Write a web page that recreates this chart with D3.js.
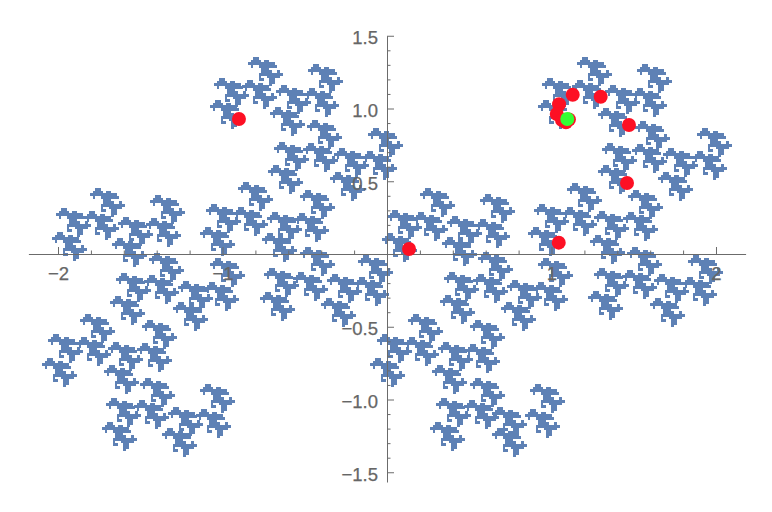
<!DOCTYPE html>
<html>
<head>
<meta charset="utf-8">
<style>html,body{margin:0;padding:0;background:#fff}svg{display:block}</style>
<script src="https://cdnjs.cloudflare.com/ajax/libs/d3/7.8.5/d3.min.js"></script>
</head>
<body>
<div id="chart"></div>
<script>
// Upper-left corner of each repeated fractal piece (data units)
const pieceX = [
-1.866,-1.684,-1.489,-2.061,-1.891,-1.696,-1.520,-2.097,-1.720,-1.502,-1.137,-1.708,-1.538,-1.331,-1.161,-1.733,-1.368,-1.301,
-1.805,-1.441,-2.012,-1.842,-1.635,-1.465,-2.036,-1.672,-1.447,-1.100,-0.936,-0.906,-1.137,-1.076,-1.647,-1.477,-1.271,-1.112,
-0.845,-0.480,-1.052,-0.881,-0.675,-0.505,-1.076,-0.711,-0.486,-0.116,-0.687,-0.511,-0.322,-0.152,-0.723,-0.347,-0.529,0.201,
-0.729,-0.565,-0.760,-0.529,-0.748,-0.571,-0.365,-0.201,-0.772,-0.401,-0.176,-0.030,0,0.158,
0.565,0.365,0.535,0.334,0.553,0.894,1.064,1.094,0.857,1.234,0.918,0.347,0.523,0.729,0.888,0.322,0.693,0.128,0.505,
1.465,1.258,1.435,1.459,1.830,1.258,1.429,1.623,1.793,1.222,1.599,
1.155,1.520,0.942,1.125,1.325,1.489,0.918,1.283,1.508,1.885,1.307,1.489,1.678,1.854,1.283,1.647,
-0.061,0.103,0.310,0.474,-0.103,0.274,0.505,0.869,0.298,0.468,0.638,0.839,0.261,0.638];
const pieceY = [
-0.412,-0.289,-0.454,-0.550,-0.570,-0.605,-0.612,-0.715,-0.763,-0.852,-0.893,-0.990,-1.003,-1.052,-1.065,-1.155,-1.196,-0.330,
0.454,0.405,0.316,0.296,0.254,0.247,0.151,0.110,0.007,0.344,0.323,0.495,0.186,-0.027,-0.131,-0.144,-0.186,-0.192,
1.354,1.306,1.210,1.196,1.162,1.141,1.058,1.010,0.921,0.866,0.770,0.763,0.729,0.708,0.612,0.564,0.440,0.454,
0.289,0.282,0.144,0.048,-0.096,-0.124,-0.137,-0.158,-0.261,-0.302,-0.007,0.144,0.302,0.289,
0.412,0.261,0.241,0.117,0.014,0.344,0.323,0.488,0.186,0.131,-0.027,-0.124,-0.137,-0.179,-0.192,-0.282,-0.330,-0.412,-0.454,
0.440,0.296,0.289,0.048,-0.007,-0.096,-0.110,-0.137,-0.158,-0.254,-0.302,
1.354,1.306,1.210,1.196,1.162,1.141,1.058,1.003,0.914,0.866,0.763,0.756,0.729,0.708,0.612,0.564,
-0.550,-0.570,-0.605,-0.619,-0.715,-0.763,-0.852,-0.893,-0.990,-1.003,-1.052,-1.065,-1.155,-1.196];

// Shape of one piece as seen in the picture
const pieceShape = [
"..XX.........",
".XXXX.XX.....",
"XXXXXXXXXX...",
".X..XXXXXXX..",
".....XXX.....",
".....XXXX..X.",
"....XXXXXXXXX",
"....X..XXXXX.",
"....XX..XX...",
"........XX...",
"........X...."];
const cellW = 0.01621, cellH = 0.01833;

const redX = [-0.900,0.134,1.044,1.129,1.299,1.046,1.032,1.471,1.459,1.106,1.088,1.064];
const redY = [0.928,0.034,0.078,1.095,1.081,1.029,0.962,0.887,0.488,0.924,0.905,0.921];
const greenX = [1.096];
const greenY = [0.928];

const xMajor = [-2,-1,1,2];
const xMinor = [-1.8,-1.6,-1.4,-1.2,-0.8,-0.6,-0.4,-0.2,0.2,0.4,0.6,0.8,1.2,1.4,1.6,1.8];
const yMajor = [-1.5,-1,-0.5,0.5,1,1.5];
const yMinor = [-1.4,-1.3,-1.2,-1.1,-0.9,-0.8,-0.7,-0.6,-0.4,-0.3,-0.2,-0.1,0.1,0.2,0.3,0.4,0.6,0.7,0.8,0.9,1.1,1.2,1.3,1.4];
const yLabels = ["−1.5","−1.0","−0.5","0.5","1.0","1.5"];

const width = 772, height = 512;
const x = d3.scaleLinear().domain([-2.18,2.18]).range([28.4,745.6]);
const y = d3.scaleLinear().domain([-1.567,1.5]).range([482,35.75]);

const svg = d3.select("#chart").append("svg").attr("width",width).attr("height",height);

const cells = [];
pieceShape.forEach((row,r)=>[...row].forEach((ch,c)=>{ if(ch==="X") cells.push([c,r]); }));

const fractal = svg.append("g").attr("fill","#5e81b5").attr("shape-rendering","crispEdges");
fractal.selectAll("path").data(pieceX.map((v,i)=>[v,pieceY[i]])).join("path")
  .attr("d",d=>cells.map(([c,r])=>{
    const x0=Math.round(x(d[0]+c*cellW)), x1=Math.round(x(d[0]+(c+1)*cellW));
    const y0=Math.round(y(d[1]-r*cellH)), y1=Math.round(y(d[1]-(r+1)*cellH));
    return `M${x0},${y0}H${x1}V${y1}H${x0}Z`;
  }).join(""));

const axisColor="#6b6b6b", textColor="#666";
function style(g){
  g.selectAll("path,line").attr("stroke",axisColor).attr("stroke-width",1);
  g.selectAll("text").attr("fill",textColor).attr("font-family","'Liberation Sans',Arial,sans-serif").attr("font-size",18.5).attr("stroke",textColor).attr("stroke-width",0.25);
}
// x axis: ticks rise above the line
const gx = svg.append("g").attr("transform",`translate(0,${y(0)})`);
gx.call(d3.axisBottom(x).tickValues(xMinor).tickSizeOuter(0).tickSizeInner(-3.5).tickFormat(""));
const gx2 = svg.append("g").attr("transform",`translate(0,${y(0)})`);
gx2.call(d3.axisBottom(x).tickValues(xMajor).tickSizeOuter(0).tickSizeInner(-7).tickFormat(d=>d<0?"−"+(-d):d));
gx2.select(".domain").remove();
gx2.selectAll("text").attr("y",26).attr("dy",0);
style(gx);style(gx2);
// y axis: ticks point right of the line
const gy = svg.append("g").attr("transform",`translate(${x(0)},0)`);
gy.call(d3.axisLeft(y).tickValues(yMinor).tickSizeOuter(0).tickSizeInner(-3.5).tickFormat(""));
const gy2 = svg.append("g").attr("transform",`translate(${x(0)},0)`);
gy2.call(d3.axisLeft(y).tickValues(yMajor).tickSizeOuter(0).tickSizeInner(-7).tickFormat((d,i)=>yLabels[i]));
gy2.select(".domain").remove();
gy2.selectAll("text").attr("x",-9).attr("dy","0.42em");
style(gy);style(gy2);

svg.append("g").attr("fill","#fd1024").selectAll("circle").data(redX.map((v,i)=>[v,redY[i]])).join("circle")
  .attr("cx",d=>x(d[0])).attr("cy",d=>y(d[1])).attr("r",7);
svg.append("g").attr("fill","#33ff33").selectAll("circle").data(greenX.map((v,i)=>[v,greenY[i]])).join("circle")
  .attr("cx",d=>x(d[0])).attr("cy",d=>y(d[1])).attr("r",7);
</script>
</body>
</html>
